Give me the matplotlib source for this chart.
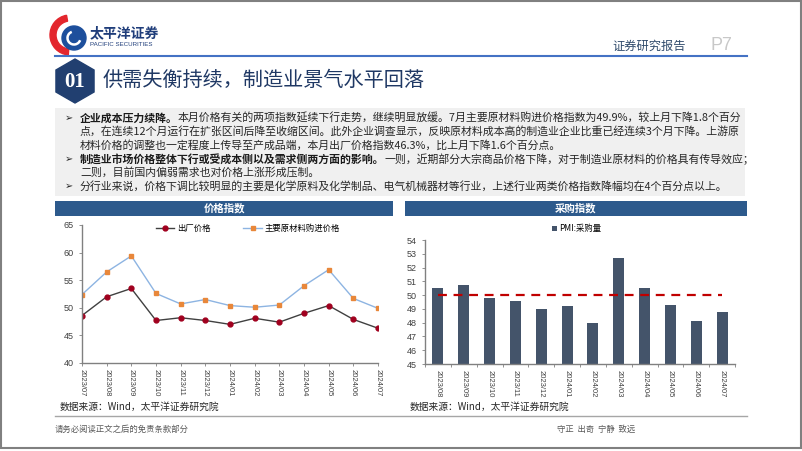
import numpy as np
import matplotlib.pyplot as plt
from matplotlib.patches import Rectangle, RegularPolygon, Wedge, Circle, Arc

plt.rcParams['font.family'] = ['Noto Sans CJK SC', 'DejaVu Sans']

# data
bulan_harga = ['2023/07', '2023/08', '2023/09', '2023/10', '2023/11', '2023/12', '2024/01',
               '2024/02', '2024/03', '2024/04', '2024/05', '2024/06', '2024/07']
harga_pabrik = [48.6, 52.0, 53.5, 47.7, 48.2, 47.7, 47.0, 48.1, 47.4, 49.0, 50.4, 47.9, 46.3]
harga_bahan = [52.4, 56.5, 59.4, 52.6, 50.7, 51.5, 50.4, 50.1, 50.5, 54.0, 56.9, 51.7, 49.9]

bulan_beli = ['2023/08', '2023/09', '2023/10', '2023/11', '2023/12', '2024/01',
              '2024/02', '2024/03', '2024/04', '2024/05', '2024/06', '2024/07']
volume_beli = [50.5, 50.7, 49.8, 49.6, 49.0, 49.2, 48.0, 52.7, 50.5, 49.3, 48.1, 48.8]
garis_batas = 50

W, H = 802, 451
fig = plt.figure(figsize=(W / 100, H / 100), dpi=100)

# overlay in pixel coords
ax0 = fig.add_axes([0, 0, 1, 1])
ax0.set_xlim(0, W)
ax0.set_ylim(H, 0)
ax0.axis('off')

biru_tua = '#1f3864'
ax0.add_patch(Rectangle((1, 1), W - 2.5, H - 4, fill=False, ec='#808080', lw=1.5))

# logo
ax0.add_patch(Wedge((70, 35), 20, 95, 260, width=6, color='#e3262d'))
ax0.add_patch(Circle((74, 38), 12, color='#1d4f9c'))
ax0.add_patch(Arc((74, 38), 13, 13, theta1=20, theta2=250, color='white', lw=1.8))
ax0.text(90, 33, '太平洋证券', fontsize=10, fontweight='bold', color='#1f3d7a', va='center')
ax0.text(90, 44.5, 'PACIFIC SECURITIES', fontsize=4.4, color='#1f3d7a', va='center',
         family='Liberation Sans')

ax0.plot([55, 747], [56, 56], color='#4472c4', lw=1.5)
ax0.text(612, 46, '证券研究报告', fontsize=8.8, color='#2f4a6b', va='center')
ax0.text(711, 46, 'P7', fontsize=13, color='#c8c8c8', va='center', family='Liberation Sans')

# title
ax0.add_patch(RegularPolygon((75, 81), 6, radius=22, color='#213f70'))
ax0.text(75, 82, '01', fontsize=15, color='white', fontweight='bold', ha='center', va='center',
         family='Liberation Serif')
ax0.text(103, 80, '供需失衡持续，制造业景气水平回落', fontsize=14.5, color=biru_tua, va='center')

# text box
ax0.add_patch(Rectangle((55, 108), 690, 88, color='#f0f0f0', lw=0))
baris = [
    ('企业成本压力续降。', '本月价格有关的两项指数延续下行走势，继续明显放缓。7月主要原材料购进价格指数为49.9%，较上月下降1.8个百分', True),
    ('', '点，在连续12个月运行在扩张区间后降至收缩区间。此外企业调查显示，反映原材料成本高的制造业企业比重已经连续3个月下降。上游原', False),
    ('', '材料价格的调整也一定程度上传导至产成品端，本月出厂价格指数46.3%，比上月下降1.6个百分点。', False),
    ('制造业市场价格整体下行或受成本侧以及需求侧两方面的影响。', '一则，近期部分大宗商品价格下降，对于制造业原材料的价格具有传导效应；', True),
    ('', '二则，目前国内偏弱需求也对价格上涨形成压制。', False),
    ('', '分行业来说，价格下调比较明显的主要是化学原料及化学制品、电气机械器材等行业，上述行业两类价格指数降幅均在4个百分点以上。', True),
]
renderer = fig.canvas.get_renderer()
y = 118
for tebal, biasa, peluru in baris:
    if peluru:
        ax0.text(65, y, '➢', fontsize=7, va='center', color='#262626')
    x = 80
    if tebal:
        t = ax0.text(x, y, tebal, fontsize=7.85, fontweight='bold', va='center', color='#1a1a1a')
        bb = t.get_window_extent(renderer)
        x += bb.width
    ax0.text(x, y, biasa, fontsize=7.85, va='center', color='#262626')
    y += 13.6

# chart headers
warna_bar = '#2d5a8c'
ax0.add_patch(Rectangle((55, 201), 338, 15, color=warna_bar, lw=0))
ax0.text(224, 208.5, '价格指数', fontsize=7.5, color='white', ha='center', va='center', fontweight='bold')
ax0.add_patch(Rectangle((405, 201), 342, 15, color=warna_bar, lw=0))
ax0.text(576, 208.5, '采购指数', fontsize=7.5, color='white', ha='center', va='center', fontweight='bold')

ax0.text(60, 407, '数据来源：Wind，太平洋证券研究院', fontsize=7, va='center', color='#262626')
ax0.text(410, 407, '数据来源：Wind，太平洋证券研究院', fontsize=7, va='center', color='#262626')

ax0.plot([55, 747], [416, 416], color='#a6a6a6', lw=1)
ax0.text(55, 429, '请务必阅读正文之后的免责条款部分', fontsize=6, va='center', color='#595959')
ax0.text(596, 429, '守正  出奇  宁静  致远', fontsize=6, va='center', ha='center', color='#595959')

abu = '#808080'

# left chart
ax1 = fig.add_axes([82 / W, (H - 363) / H, 296 / W, 138 / H])
x1 = np.arange(len(bulan_harga))
ax1.plot(x1, harga_pabrik, color='#404040', lw=1, marker='o', ms=3.5,
         mfc='#a0001e', mec='#a0001e', label='出厂价格')
ax1.plot(x1, harga_bahan, color='#8db4e2', lw=1, marker='s', ms=3.5,
         mfc='#e8873a', mec='#e8873a', label='主要原材料购进价格')
ax1.set_xlim(0, len(bulan_harga) - 1)
ax1.set_ylim(40, 65)
ax1.set_yticks(range(40, 66, 5))
ax1.set_xticks(x1)
ax1.set_xticklabels(bulan_harga, rotation=270, fontsize=5.5, family='Liberation Sans', color='#404040')
ax1.tick_params(axis='y', labelsize=6.5, colors='#404040', length=2.5, width=0.6, color=abu)
ax1.tick_params(axis='x', length=2.5, width=0.6, color=abu, pad=2)
for lbl in ax1.get_yticklabels():
    lbl.set_family('Liberation Sans')
for s in ['top', 'right']:
    ax1.spines[s].set_visible(False)
for s in ['left', 'bottom']:
    ax1.spines[s].set_color(abu)
    ax1.spines[s].set_linewidth(1)
ax1.legend(loc='center', bbox_to_anchor=(0.56, 0.975), ncol=2, frameon=False, fontsize=6,
           columnspacing=4, handlelength=2.2, handletextpad=0.3)

# right chart
ax2 = fig.add_axes([425 / W, (H - 364) / H, 310 / W, 124 / H])
x2 = np.arange(len(bulan_beli))
ax2.bar(x2, [v - 45 for v in volume_beli], bottom=45, width=0.42, color='#44546a', label='PMI:采购量')
ax2.plot([x2[0], x2[-1]], [garis_batas, garis_batas], color='#c00000', lw=1.6, ls=(0, (4, 3)))
ax2.set_xlim(-0.5, len(bulan_beli) - 0.5)
ax2.set_ylim(45, 54)
ax2.set_yticks(range(45, 55))
ax2.set_xticks(x2)
ax2.set_xticklabels(bulan_beli, rotation=270, fontsize=5.5, family='Liberation Sans', color='#404040')
ax2.set_xticks(np.arange(-0.5, len(bulan_beli)), minor=True)
ax2.tick_params(axis='x', which='major', length=0, pad=4)
ax2.tick_params(axis='x', which='minor', length=2.5, width=0.6, color=abu)
ax2.tick_params(axis='y', labelsize=6.5, colors='#404040', length=2.5, width=0.6, color=abu)
for lbl in ax2.get_yticklabels():
    lbl.set_family('Liberation Sans')
for s in ['top', 'right']:
    ax2.spines[s].set_visible(False)
for s in ['left', 'bottom']:
    ax2.spines[s].set_color(abu)
    ax2.spines[s].set_linewidth(1)
ax2.legend(loc='center', bbox_to_anchor=(0.49, 1.09), frameon=False, fontsize=6,
           handlelength=0.6, handleheight=0.6, handletextpad=0.3)

fig.savefig('out.png', dpi=100)
